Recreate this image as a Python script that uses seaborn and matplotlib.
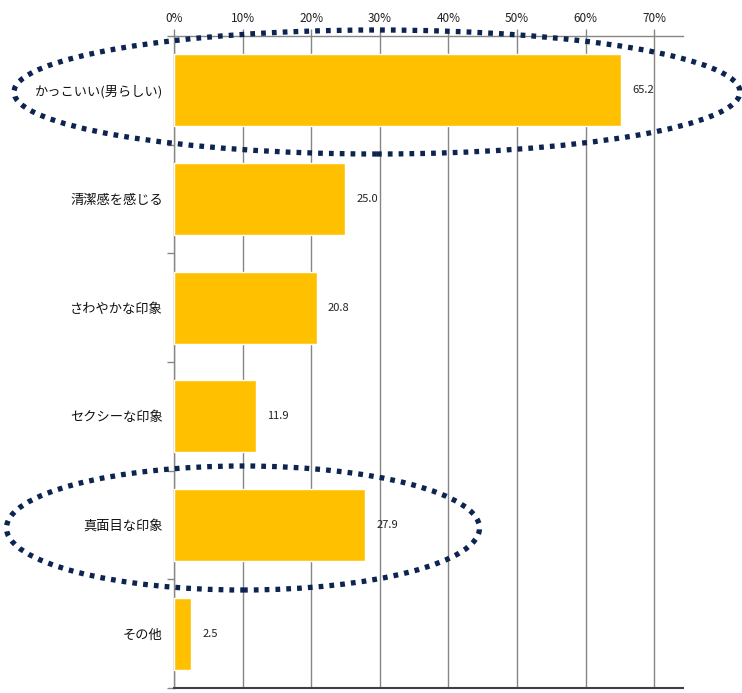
import numpy as np
import pandas as pd
import matplotlib
matplotlib.use("Agg")
import matplotlib.pyplot as plt
import seaborn as sns
from matplotlib.patches import Ellipse

# データ
categories = ["かっこいい(男らしい)", "清潔感を感じる", "さわやかな印象", "セクシーな印象", "真面目な印象", "その他"]
values = [65.2, 25.0, 20.8, 11.9, 27.9, 2.5]
xticks = [0, 10, 20, 30, 40, 50, 60, 70]
xtick_labels = ["0%", "10%", "20%", "30%", "40%", "50%", "60%", "70%"]

df = pd.DataFrame({"項目": categories, "割合": values})

sns.set_style("white")
plt.rcParams['font.family'] = ['Noto Sans CJK JP', 'DejaVu Sans']

W, H = 742, 693
fig = plt.figure(figsize=(W / 100, H / 100), dpi=100)
ax = fig.add_axes([174 / W, 1 - 688 / H, (683 - 174) / W, (688 - 36) / H])

sns.barplot(data=df, x="割合", y="項目", orient="h", color="#FFC000",
            saturation=1, width=0.66, ax=ax, zorder=3)

ax.set_xlim(0, 74.2)
ax.set_ylim(len(categories) - 0.5, -0.5)

# 目盛りは上側
ax.xaxis.tick_top()
ax.set_xticks(xticks)
ax.set_xticklabels(xtick_labels, fontsize=8.5, color="#222222")
ax.tick_params(axis="x", length=5, width=1, color="#868686", pad=3)
ax.grid(axis="x", color="#868686", linewidth=1, zorder=0)
ax.set_axisbelow(True)
ax.set_xlabel("")
ax.set_ylabel("")

# y軸
ax.set_yticks(range(len(categories)))
ax.set_yticklabels(categories, fontsize=9.5, color="#111111")
ax.tick_params(axis="y", length=0, pad=8)
ax.set_yticks(np.arange(-0.5, len(categories), 1), minor=True)
ax.tick_params(axis="y", which="minor", length=5, width=1, color="#868686", left=True)

for side in ["top", "left"]:
    ax.spines[side].set_color("#868686")
    ax.spines[side].set_linewidth(1)
ax.spines["bottom"].set_color("#404040")
ax.spines["bottom"].set_linewidth(1.5)
ax.spines["right"].set_visible(False)

# 数値ラベル
for i, v in enumerate(values):
    ax.annotate(f"{v:.1f}", (v, i), xytext=(8, 0), textcoords="offset points",
                va="center", ha="left", fontsize=8, color="#222222")

# 点線の楕円
for cx, cy, w, h in [(377, 92, 726, 124), (243, 528, 473, 124)]:
    e = Ellipse((cx / W, 1 - cy / H), w / W, h / H, transform=fig.transFigure,
                fill=False, edgecolor="#0D2451", linewidth=3.8,
                linestyle=(0, (0.9, 1.15)), zorder=10)
    e.set_capstyle("butt")
    fig.patches.append(e)

fig.savefig("out.png", dpi=100)
